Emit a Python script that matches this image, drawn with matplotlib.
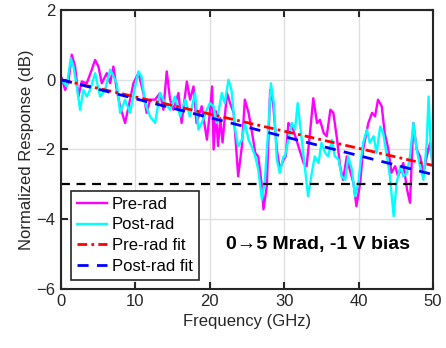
import matplotlib
matplotlib.use("Agg")
import matplotlib.pyplot as plt

plt.rcParams['font.family'] = ['Liberation Sans', 'DejaVu Sans']

pre_f = [0.09, 0.54, 0.99, 1.43, 1.88, 2.33, 2.78, 3.45, 4.12, 4.57, 5.02, 5.47, 6.14, 6.59, 7.03, 7.48,
         7.93, 8.6, 9.27, 9.72, 10.4, 11.06, 11.5, 11.96, 12.63, 13.3, 13.75, 14.2, 14.65, 15.1, 15.77,
         16.2, 16.9, 17.34, 17.8, 18.2, 18.9, 19.6, 20.03, 20.3, 20.5, 20.8, 21.1, 21.4, 21.7, 22.3, 22.7,
         23.2, 23.8, 24.3, 24.7, 25.2, 25.6, 26.1, 26.5, 27.0, 27.2, 27.65, 28.1, 28.5, 29.0, 29.4, 29.9,
         30.2, 30.55, 31.2, 31.9, 32.6, 33.0, 33.5, 33.9, 34.4, 34.8, 35.3, 35.7, 36.2, 36.6, 37.1, 37.5,
         37.9, 38.4, 38.8, 39.3, 39.7, 40.2, 40.6, 41.3, 41.8, 42.2, 42.6, 43.1, 43.5, 44.0, 44.4, 44.9,
         45.3, 46.0, 46.5, 46.9, 47.35, 47.8, 48.25, 48.7, 49.15, 49.6, 49.9]
pre_db = [0.05, -0.29, -0.05, 0.72, 0.38, -0.48, -0.05, -0.10, 0.29, 0.57, 0.38, -0.10, 0.19, -0.10, 0.38, -0.29,
          -0.76, -1.24, -0.57, -0.10, 0.19, -0.38, -0.95, -0.57, -0.57, -0.38, -0.86, 0.24, -0.57, -0.86, -0.38,
          -1.24, -0.05, -0.57, -0.19, -1.24, -0.76, -1.72, -0.86, -0.19, -2.0, -0.9, -1.9, -1.1, -1.8, -0.38, -0.66,
          -0.95, -2.77, -1.91, -0.57, -0.95, -1.43, -2.1, -2.2, -3.06, -3.72, -3.06, -0.29, -0.67, -2.0, -2.58, -2.29,
          -2.2, -1.24, -1.43, -1.91, -2.39, -2.48, -1.43, -0.53, -1.24, -1.15, -1.53, -1.62, -0.86, -0.95, -1.72, -2.48,
          -2.87, -2.2, -2.58, -2.96, -3.63, -2.96, -2.0, -1.24, -0.95, -1.05, -0.57, -0.76, -1.53, -2.0, -2.67, -2.48,
          -2.77, -2.39, -3.15, -3.53, -1.24, -2.0, -2.2, -2.67, -2.2, -1.81, -2.3]

post_f = [0.09, 0.76, 1.3, 1.66, 2.1, 2.55, 3.0, 3.45, 3.9, 4.57, 5.24, 5.9, 6.6, 7.03, 7.48, 7.93, 8.6, 9.27,
          9.95, 10.4, 10.8, 11.3, 11.96, 12.63, 13.3, 13.98, 14.65, 15.3, 16.0, 16.7, 17.3, 18.0, 18.45, 19.1,
          19.6, 20.0, 20.5, 20.9, 21.6, 22.0, 22.5, 22.9, 23.4, 23.8, 24.3, 24.7, 25.2, 25.6, 26.1, 26.5, 27.0,
          27.4, 27.9, 28.2, 28.6, 29.0, 29.4, 29.9, 30.1, 30.55, 31.0, 31.45, 31.8, 32.35, 32.8, 33.2, 33.7,
          34.1, 34.6, 35.0, 35.5, 35.9, 36.4, 36.8, 37.3, 37.7, 38.2, 38.6, 39.1, 39.5, 39.96, 40.2, 40.6, 41.1,
          41.5, 42.0, 42.4, 42.9, 43.3, 43.8, 44.2, 44.7, 45.1, 45.6, 46.0, 46.5, 46.9, 47.35, 47.8, 48.25,
          48.7, 49.15, 49.4, 49.7, 49.9]
post_db = [0.0, -0.19, 0.62, 0.38, -0.19, -0.86, -0.29, -0.48, -0.29, 0.19, -0.48, -0.29, 0.29, 0.1, -0.1, -0.95, -0.57, -0.95,
           -0.19, 0.24, 0.1, -0.67, -1.05, -1.24, -0.38, -0.67, -0.86, -0.48, -1.05, -0.57, -1.05, -0.38, -1.43, -1.15,
           -0.86, -0.67, -0.76, -1.24, -0.38, -0.67, 0.0, -0.29, -1.43, -1.91, -1.72, -1.24, -1.72, -1.91, -2.2, -2.58, -3.44,
           -2.87, -1.24, -0.1, -0.67, -2.29, -2.67, -2.2, -2.2, -1.72, -1.24, -1.43, -0.67, -1.72, -2.58, -3.34, -2.67,
           -2.2, -2.39, -1.81, -2.1, -2.2, -1.72, -2.2, -2.29, -2.77, -2.87, -2.2, -2.58, -3.34, -2.96, -2.48, -1.81, -1.43,
           -1.81, -1.62, -2.1, -1.34, -1.53, -2.2, -2.77, -3.92, -2.96, -2.48, -2.77, -2.67, -2.2, -1.24, -2.0, -2.48,
           -2.87, -1.81, -0.48, -2.0, -2.4]

fit_f = [0, 50]
pre_fit = [0.0, -2.46]
post_fit = [0.0, -2.72]
thresh = [-3.0, -3.0]

fig = plt.figure(figsize=(4.46, 3.48), dpi=100)
ax = fig.add_axes([0.137, 0.170, 0.834, 0.801])

ax.plot(pre_f, pre_db, color='#FF00FF', lw=1.7, label='Pre-rad')
ax.plot(post_f, post_db, color='#00FFFF', lw=1.7, label='Post-rad')
ax.plot(fit_f, pre_fit, color='#FF0000', lw=2.0, ls=(0, (3.5, 1.5, 1, 1.5)), label='Pre-rad fit')
ax.plot(fit_f, post_fit, color='#0000FF', lw=2.0, ls=(0, (4, 3)), label='Post-rad fit')
ax.plot(fit_f, thresh, color='black', lw=1.6, ls=(0, (4, 3)))

ax.set_xlim(0, 50)
ax.set_ylim(-6, 2)
ax.set_xticks([0, 10, 20, 30, 40, 50])
ax.set_yticks([-6, -4, -2, 0, 2])
ax.grid(True, color='#DFDFDF', lw=1.0)
ax.set_axisbelow(True)
for s in ax.spines.values():
    s.set_color('#262626')
    s.set_linewidth(1.5)
ax.tick_params(direction='in', length=5, width=1.5, color='#262626', top=True, right=True,
               labelsize=12, labelcolor='#262626', pad=4)
ax.set_xlabel('Frequency (GHz)', fontsize=12, color='#262626', labelpad=3)
ax.set_ylabel('Normalized Response (dB)', fontsize=12, color='#262626', labelpad=2)

leg = ax.legend(loc='lower left', bbox_to_anchor=(0.027, 0.032), fontsize=12, frameon=True, fancybox=False,
                handlelength=1.8, handletextpad=0.3, borderpad=0.35, labelspacing=0.35, borderaxespad=0)
leg.get_frame().set_edgecolor('#262626')
leg.get_frame().set_linewidth(1.2)
leg.get_frame().set_alpha(1)

ax.text(0.69, 0.158, '0\u21925 Mrad, -1 V bias', transform=ax.transAxes, fontsize=14,
        fontweight='bold', ha='center', va='center')

fig.savefig('out.png', dpi=100)
